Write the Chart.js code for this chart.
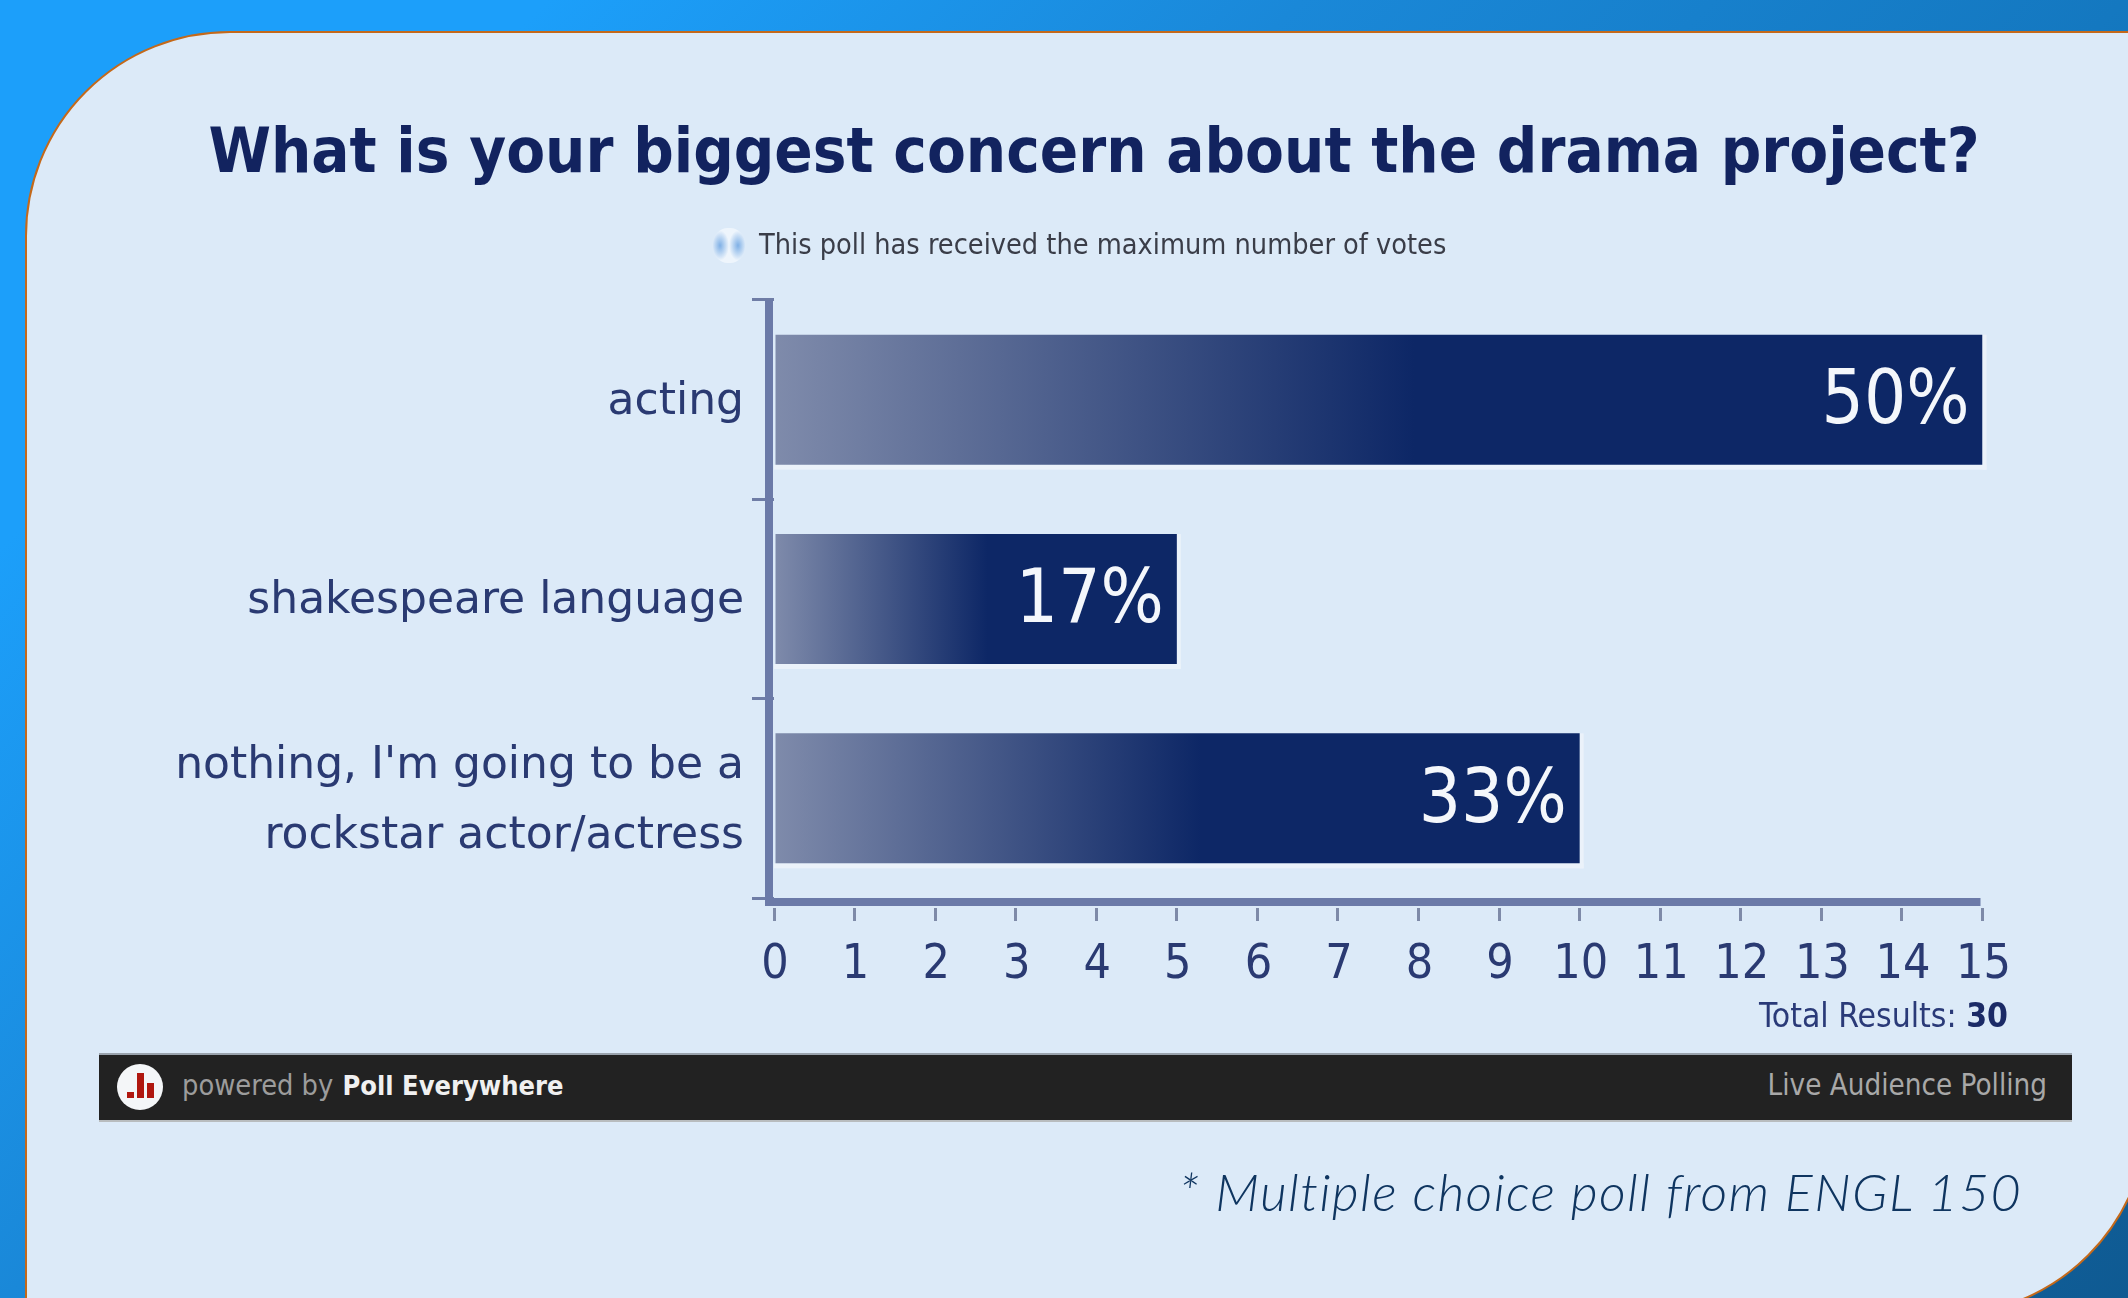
<!DOCTYPE html>
<html>
<head>
<meta charset="utf-8">
<title>Drama project poll</title>
<script src="https://cdn.jsdelivr.net/npm/chart.js@4"></script>
<style>
  html, body { margin: 0; padding: 0; }
  body {
    width: 2128px; height: 1298px; position: relative; overflow: hidden;
    background: linear-gradient(135deg, #1c9ffa 0%, #1c9ffa 16%, #1a88d8 38%, #1478c0 62%, #0f5a92 100%);
    font-family: "DejaVu Sans Condensed", "DejaVu Sans", sans-serif;
  }
  #panel {
    position: absolute; left: 25px; top: 31px; width: 2124px; height: 1285px;
    box-sizing: border-box; background: #dceaf8; border: 2px solid #c4691a;
    border-radius: 205px 0 205px 0;
  }
  #poll { position: absolute; left: 60px; top: 0; }
  .txt { position: absolute; white-space: nowrap; }
  #pollTitle { left: 0; width: 2188px; text-align: center; top: 114px; font-size: 63px; font-weight: bold; color: #12235f; }
  #notice { left: 759px; top: 227px; font-size: 28.6px; color: #3a3d48; }
  #globe {
    position: absolute; left: 713px; top: 228px; width: 32px; height: 35px; border-radius: 46%;
    background:
      radial-gradient(ellipse 9px 15px at 22% 50%, #7fb0e6 0%, rgba(127,176,230,0) 100%),
      radial-gradient(ellipse 9px 15px at 78% 50%, #7fb0e6 0%, rgba(127,176,230,0) 100%),
      #eef5fc;
  }
  #total { right: 120px; top: 996px; font-size: 33.4px; color: #2a3a78; }
  #total b { color: #1b2a66; }
  #footer {
    position: absolute; left: 99px; top: 1053px; width: 1973px; height: 69px;
    box-sizing: border-box; background: #222; border-top: 2px solid #9aa3ad; border-bottom: 2px solid #b8bcbe;
  }
  #logo { position: absolute; left: 18px; top: 9px; width: 46px; height: 46px; border-radius: 50%; background: #f4f6f8; }
  #logo i { position: absolute; background: #b0170f; width: 7px; }
  #powered { left: 83px; top: 13px; font-size: 28.7px; color: #9c9c9c; }
  #powered b { color: #f0f0f0; font-size: 27px; margin-left: 1px; }
  #live { right: 25px; top: 13px; font-size: 29.3px; color: #a8a8a8; }
  #note { right: 106px; top: 1160px; font: italic 300 52px Lato, sans-serif; letter-spacing: 1.36px; color: #0f3560; }
</style>
</head>
<body>
<div id="panel"></div>
<canvas id="poll" width="2068" height="1298"></canvas>
<div class="txt" id="pollTitle">What is your biggest concern about the drama project?</div>
<div id="globe"></div>
<div class="txt" id="notice">This poll has received the maximum number of votes</div>
<div class="txt" id="total">Total Results: <b>30</b></div>
<div id="footer">
  <div id="logo"><i style="left:10px;top:28px;height:6px"></i><i style="left:20px;top:9px;height:25px"></i><i style="left:30px;top:19px;height:15px"></i></div>
  <div class="txt" id="powered">powered by <b>Poll Everywhere</b></div>
  <div class="txt" id="live">Live Audience Polling</div>
</div>
<div class="txt" id="note">* Multiple choice poll from ENGL 150</div>

<script>
const categories = ["acting", "shakespeare language", ["nothing, I'm going to be a", "rockstar actor/actress"]];
const votes = [15, 5, 10];
const percentLabels = ["50%", "17%", "33%"];
const xMax = 15;

const axisColor = "#6b7aa8";
const labelColor = "#2a3a72";
const condensed = '"DejaVu Sans Condensed", "DejaVu Sans", sans-serif';

// fades from grey-blue to navy over the first half of each bar
function barGradient(context) {
  const chart = context.chart;
  if (!chart.chartArea || context.raw === undefined) return "#0d2766";
  const x0 = chart.scales.x.getPixelForValue(0);
  const x1 = chart.scales.x.getPixelForValue(context.raw);
  const g = chart.ctx.createLinearGradient(x0, 0, x0 + (x1 - x0) * 0.53, 0);
  g.addColorStop(0, "#7f8bab");
  g.addColorStop(1, "#0d2766");
  return g;
}

// both axis lines sit just outside the plot, and bars have a pale edge right and below
const axisLines = {
  id: "axisLines",
  beforeDatasetsDraw(chart) {
    const { ctx, scales: { x, y } } = chart;
    ctx.save();
    ctx.fillStyle = "#ebf2fa";
    chart.getDatasetMeta(0).data.forEach(bar => {
      const bottom = bar.y + bar.height / 2;
      ctx.fillRect(bar.x, bar.y - bar.height / 2, 4, bar.height + 5);
      ctx.fillRect(x.left, bottom, bar.x - x.left + 4, 5);
    });
    ctx.fillStyle = axisColor;
    ctx.fillRect(x.left - 9, y.top, 8, y.bottom - y.top + 8);
    ctx.fillRect(x.left - 9, x.top, x.right - x.left + 7, 8);
    ctx.restore();
  }
};

const percentText = {
  id: "percentText",
  afterDatasetsDraw(chart) {
    const ctx = chart.ctx;
    ctx.save();
    ctx.font = "74px " + condensed;
    ctx.fillStyle = "#f4f7fb";
    ctx.textAlign = "right";
    ctx.textBaseline = "middle";
    chart.getDatasetMeta(0).data.forEach((bar, i) => {
      ctx.fillText(percentLabels[i], bar.x - 13, bar.y + 4);
    });
    ctx.restore();
  }
};

new Chart(document.getElementById("poll"), {
  type: "bar",
  data: {
    labels: categories,
    datasets: [{
      data: votes,
      backgroundColor: barGradient,
      borderWidth: 0,
      barPercentage: 0.652,
      categoryPercentage: 1
    }]
  },
  plugins: [axisLines, percentText],
  options: {
    indexAxis: "y",
    responsive: false,
    animation: false,
    layout: { padding: { top: 300, right: 145.5, bottom: 280 } },
    plugins: {
      legend: { display: false },
      tooltip: { enabled: false }
    },
    scales: {
      x: {
        min: 0,
        max: xMax,
        ticks: { stepSize: 1, color: labelColor, font: { family: condensed, size: 48 }, padding: 16, labelOffset: 1, maxRotation: 0, autoSkip: false },
        border: { display: false },
        grid: { drawOnChartArea: false, color: "#7e8aa8", lineWidth: 3, tickLength: 23, tickBorderDash: [0, 10, 13, 100] },
        afterFit(scale) { scale.height = 120; }
      },
      y: {
        ticks: { color: labelColor, font: { family: '"DejaVu Sans", sans-serif', size: 44, lineHeight: 1.58 }, padding: 8, labelOffset: 3, autoSkip: false },
        border: { display: false },
        grid: { drawOnChartArea: false, color: "#6f7da6", lineWidth: 3, tickLength: 22 },
        afterFit(scale) { scale.width = 714; }
      }
    }
  }
});
</script>
</body>
</html>
